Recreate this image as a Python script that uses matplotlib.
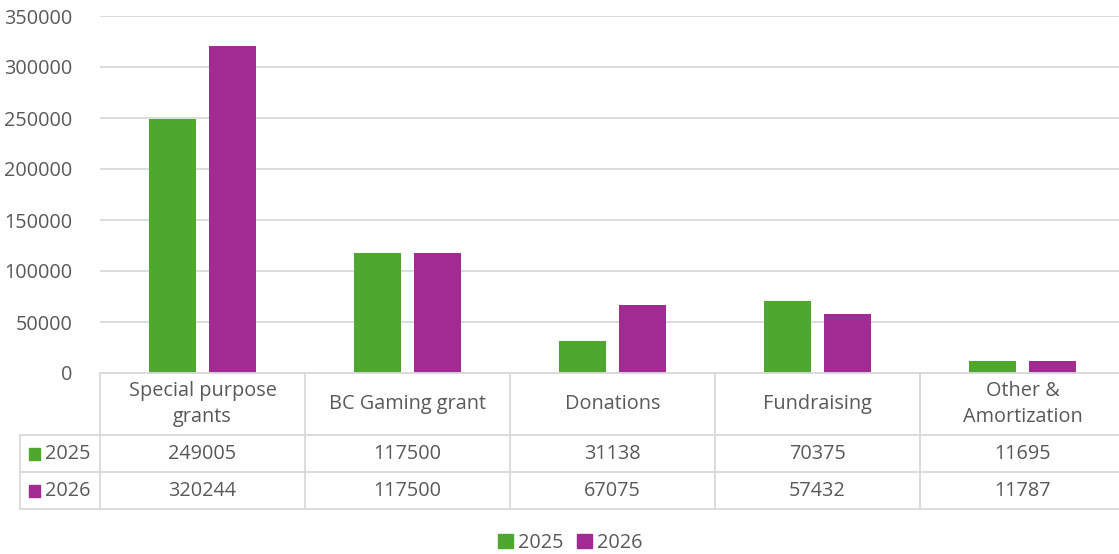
import numpy as np
import matplotlib.pyplot as plt
import matplotlib.transforms as mtrans
from matplotlib.lines import Line2D
from matplotlib.patches import Rectangle

plt.rcParams['font.family'] = ['Open Sans', 'DejaVu Sans']

categories = ['Special purpose\ngrants', 'BC Gaming grant', 'Donations', 'Fundraising', 'Other &\nAmortization']
years = ['2025', '2026']
v2025 = [249005, 117500, 31138, 70375, 11695]
v2026 = [320244, 117500, 67075, 57432, 11787]

green = '#4EA72E'
purple = '#A02B93'
txt = '#595959'
grid = '#D9D9D9'
fs = 14.3

W, H = 1119, 554
fig = plt.figure(figsize=(W / 100, H / 100), dpi=100)

def fy(p):
    return 1 - p / H

ax = fig.add_axes([100 / W, fy(373), 1025 / W, fy(16) - fy(373)])
x = np.arange(len(categories))
bw = 0.23
ax.bar(x - 0.145, v2025, bw, color=green, zorder=3)
ax.bar(x + 0.145, v2026, bw, color=purple, zorder=3)
ax.set_xlim(-0.5, len(categories) - 0.5)
ax.set_ylim(0, 350000)
ax.set_yticks(np.arange(0, 350001, 50000))
ax.yaxis.grid(True, color=grid, lw=1.3, zorder=0)
ax.tick_params(axis='y', length=0, pad=20, labelsize=fs, labelcolor=txt)
ax.tick_params(axis='x', bottom=False, labelbottom=False)
for s in ax.spines.values():
    s.set_visible(False)

# data table under the plot
tr = mtrans.blended_transform_factory(ax.transData, fig.transFigure)
trf = fig.transFigure
lkw = dict(color=grid, lw=1.3, clip_on=False)
n = len(categories)
fig.add_artist(Line2D([100 / W, 1], [fy(373)] * 2, transform=trf, **lkw))
for yy in [435, 472, 509]:
    fig.add_artist(Line2D([20 / W, 1], [fy(yy)] * 2, transform=trf, **lkw))
fig.add_artist(Line2D([20 / W] * 2, [fy(435), fy(509)], transform=trf, **lkw))
for b in np.arange(n) - 0.5:
    fig.add_artist(Line2D([b, b], [fy(373), fy(509)], transform=tr, **lkw))

for i, c in enumerate(categories):
    fig.text(i, fy(404), c, transform=tr, ha='center', va='center',
             fontsize=fs, color=txt, linespacing=1.4)
    fig.text(i, fy(454), str(v2025[i]), transform=tr, ha='center', va='center',
             fontsize=fs, color=txt)
    fig.text(i, fy(491), str(v2026[i]), transform=tr, ha='center', va='center',
             fontsize=fs, color=txt)

for yy, col, lab in [(454, green, years[0]), (491, purple, years[1])]:
    fig.add_artist(Rectangle((29 / W, fy(yy + 6)), 11 / W, 12 / H, transform=trf,
                             color=col, clip_on=False))
    fig.text(45 / W, fy(yy), lab, transform=trf, ha='left', va='center',
             fontsize=fs, color=txt)

# legend
h = [Rectangle((0, 0), 1, 1, color=green), Rectangle((0, 0), 1, 1, color=purple)]
fig.legend(h, years, loc='center', bbox_to_anchor=(570 / W, fy(543)), ncol=2,
           frameon=False, fontsize=fs, labelcolor=txt, handlelength=0.75,
           handleheight=0.75, handletextpad=0.25, columnspacing=0.7)

fig.savefig('out.png', dpi=100)
